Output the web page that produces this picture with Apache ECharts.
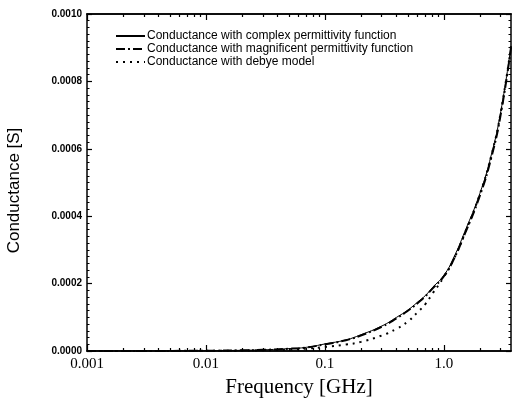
<!DOCTYPE html>
<html>
<head>
<meta charset="utf-8">
<style>
  html, body { margin: 0; padding: 0; background: #fff; }
  #chart { width: 514px; height: 405px; }
</style>
<script src="https://cdn.jsdelivr.net/npm/echarts@6/dist/echarts.min.js"></script>
</head>
<body>
<div id="chart"></div>
<script>
// frequency in GHz
var freq = [0.001, 0.002, 0.005, 0.01, 0.02, 0.03, 0.05, 0.07, 0.1, 0.15, 0.2, 0.3, 0.4, 0.5, 0.6, 0.7, 0.8, 1.0, 1.2, 1.5, 2.0, 2.5, 3.0, 3.66];
// conductance in S
var complexG = [0, 0.1e-6, 0.3e-6, 0.8e-6, 2e-6, 3.5e-6, 7e-6, 11e-6, 21e-6, 33e-6, 48e-6, 74e-6, 100e-6, 122e-6, 145e-6, 165e-6, 188e-6, 225e-6, 275e-6, 355e-6, 467e-6, 582e-6, 710e-6, 905e-6];
var magnificentG = [0, 0.1e-6, 0.3e-6, 0.8e-6, 2e-6, 3.4e-6, 6.8e-6, 10.5e-6, 20e-6, 32e-6, 46e-6, 72e-6, 97e-6, 120e-6, 142e-6, 163e-6, 185e-6, 222e-6, 270e-6, 348e-6, 460e-6, 574e-6, 702e-6, 900e-6];
var debyeG = [0, 0.05e-6, 0.2e-6, 0.5e-6, 1.2e-6, 2e-6, 4e-6, 7e-6, 12e-6, 19e-6, 27e-6, 46e-6, 66e-6, 88e-6, 115e-6, 140e-6, 170e-6, 220e-6, 270e-6, 350e-6, 465e-6, 580e-6, 708e-6, 905e-6];
var seriesNames = [
  'Conductance with complex permittivity function',
  'Conductance with magnificent permittivity function',
  'Conductance with debye model'
];
var majorTicks = [0.001, 0.01, 0.1, 1];
var minorTicks = [0.002, 0.003, 0.004, 0.005, 0.006, 0.007, 0.008, 0.009,
  0.02, 0.03, 0.04, 0.05, 0.06, 0.07, 0.08, 0.09,
  0.2, 0.3, 0.4, 0.5, 0.6, 0.7, 0.8, 0.9, 2, 3];
var xMin = 0.001, xMax = 3.66;

function pairs(vals) {
  return freq.map(function(f, i) { return [f, vals[i]]; });
}

var myChart = echarts.init(document.getElementById('chart'));

function logAxis(pos, ticks, len, labels) {
  return {
    type: 'log', logBase: 10, min: xMin, max: xMax, position: pos,
    name: labels ? 'Frequency [GHz]' : '',
    nameLocation: 'middle', nameGap: 26,
    nameTextStyle: { fontFamily: 'Liberation Serif', fontSize: 21, color: '#000' },
    axisLine: { show: true, lineStyle: { color: '#000', width: 1.5 } },
    axisTick: { show: true, inside: true, length: len, customValues: ticks, lineStyle: { color: '#000', width: 1.2 } },
    axisLabel: {
      show: labels, customValues: majorTicks,
      fontFamily: 'Liberation Serif', fontSize: 15, color: '#000', margin: 6,
      formatter: function(v) { return v >= 1 ? v.toFixed(1) : String(+v.toPrecision(1)); }
    },
    splitLine: { show: false }
  };
}

function valAxis(pos, labels) {
  return {
    type: 'value', min: 0, max: 0.001, interval: 0.0002, position: pos,
    name: labels ? 'Conductance [S]' : '',
    nameLocation: 'middle', nameGap: 64,
    nameTextStyle: { fontFamily: 'Liberation Sans', fontSize: 17, color: '#000', padding: [0, 0, 0, -16] },
    axisLine: { show: true, lineStyle: { color: '#000', width: 1.5 } },
    axisTick: { show: true, inside: true, length: 5, lineStyle: { color: '#000', width: 1.2 } },
    minorTick: { show: true, splitNumber: 10, length: 2.5, lineStyle: { color: '#000', width: 1 } },
    axisLabel: {
      show: labels, fontFamily: 'Liberation Sans', fontSize: 10, fontWeight: 'bold', color: '#000', margin: 5,
      formatter: function(v) { return v.toFixed(4); }
    },
    splitLine: { show: false }
  };
}

var option = {
  backgroundColor: '#fff',
  animation: false,
  grid: { left: 87, right: 3, top: 14, bottom: 54, outerBoundsMode: 'none', containLabel: false },
  legend: {
    orient: 'vertical', left: 110, top: 25, itemGap: 1,
    itemWidth: 29, itemHeight: 10,
    itemStyle: { color: 'transparent', borderWidth: 0 },
    textStyle: { fontFamily: 'Liberation Sans', fontSize: 12, color: '#000', padding: [0, 0, 0, -3] },
    data: seriesNames
  },
  xAxis: [
    logAxis('bottom', majorTicks, 6, true),
    logAxis('bottom', minorTicks, 3, false),
    logAxis('top', majorTicks, 6, false),
    logAxis('top', minorTicks, 3, false)
  ],
  yAxis: [valAxis('left', true), valAxis('right', false)],
  series: [
    {
      name: seriesNames[0], type: 'line', smooth: true, showSymbol: false, symbol: 'none',
      data: pairs(complexG),
      lineStyle: { color: '#000', width: 1, type: 'solid' },
      itemStyle: { color: '#000' }
    },
    {
      name: seriesNames[1], type: 'line', smooth: true, showSymbol: false, symbol: 'none',
      data: pairs(magnificentG),
      lineStyle: { color: '#000', width: 2, type: [9, 3, 2, 3] },
      itemStyle: { color: '#000' }
    },
    {
      name: seriesNames[2], type: 'line', smooth: true, showSymbol: false, symbol: 'none',
      data: pairs(debyeG),
      lineStyle: { color: '#000', width: 2, type: [2, 5] },
      itemStyle: { color: '#000' }
    }
  ]
};

myChart.setOption(option);

window.onresize = function() {
  myChart.resize();
};
</script>
</body>
</html>
